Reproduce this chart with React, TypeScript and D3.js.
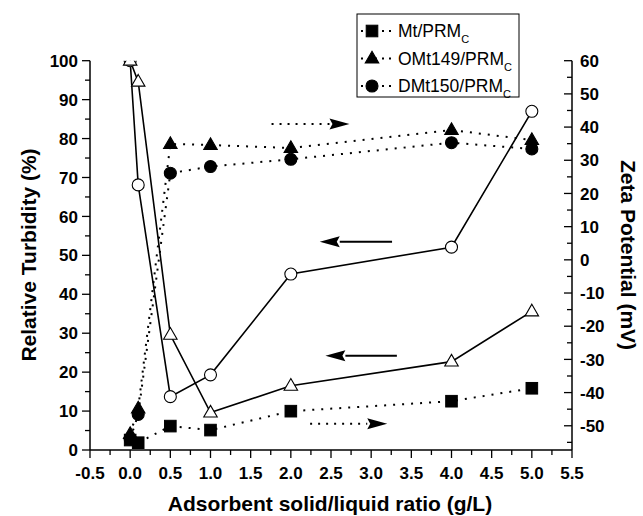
import React from "react";
import * as d3 from "d3";

const ratios = [0, 0.1, 0.5, 1, 2, 4, 5];

// Relative turbidity (%) — left axis, open markers, solid lines
const turbCircle = [100, 68.1, 13.7, 19.3, 45.2, 52.1, 87.0];
const turbTriangle = [100, 94.6, 29.6, 9.6, 16.5, 22.7, 35.6];

// Zeta potential (mV) — right axis, filled markers, dotted lines
const zetaMt = [-54.3, -55.1, -50.1, -51.3, -45.6, -42.6, -38.7];
const zetaOMt149 = [-52.5, -44.8, 34.9, 34.6, 33.7, 39.1, 36.1];
const zetaDMt150 = [-54.0, -46.6, 26.1, 28.1, 30.3, 35.3, 33.4];

const legendNames = ["Mt/PRM", "OMt149/PRM", "DMt150/PRM"];

const xTicks = [-0.5, 0, 0.5, 1, 1.5, 2, 2.5, 3, 3.5, 4, 4.5, 5, 5.5];
const leftTicks = [0, 10, 20, 30, 40, 50, 60, 70, 80, 90, 100];
const rightTicks = [-50, -40, -30, -20, -10, 0, 10, 20, 30, 40, 50, 60];

// arrows: [xFrom, xTo, y] (y on left axis for solid, right axis for dotted)
const solidArrows = [
  [3.26, 2.36, 53.5],
  [3.32, 2.43, 24.2],
];
const dottedArrows = [
  [1.76, 2.73, 40.9],
  [2.24, 3.2, -49.4],
];

const FONT = "Liberation Sans, Arial, sans-serif";

export default function App() {
  const L = 90, R = 572, T = 60.7, B = 450;
  const x = d3.scaleLinear().domain([-0.5, 5.5]).range([L, R]);
  const yL = d3.scaleLinear().domain([0, 100]).range([B, T]);
  const yR = d3.scaleLinear().domain([-57.3, 60]).range([B, T]);

  const line = (ys: number[], sc: d3.ScaleLinear<number, number>) =>
    d3.line<number>().x((_, i) => x(ratios[i])).y((v) => sc(v))(ys) as string;

  const tri = (cx: number, cy: number, s: number) => {
    const h = s * 0.866;
    return `M${cx},${cy - h * 0.62}L${cx + s / 2},${cy + h * 0.38}L${cx - s / 2},${cy + h * 0.38}Z`;
  };

  const dotted = "2 7";

  const marker = (kind: string, cx: number, cy: number, filled: boolean, key: any) => {
    const fill = filled ? "#000" : "#fff";
    if (kind === "square")
      return <rect key={key} x={cx - 5.8} y={cy - 5.8} width={11.6} height={11.6} fill={fill} stroke="#000" strokeWidth={1} />;
    if (kind === "triangle")
      return <path key={key} d={tri(cx, cy, 13.5)} fill={fill} stroke="#000" strokeWidth={1.1} />;
    return <circle key={key} cx={cx} cy={cy} r={6} fill={fill} stroke="#000" strokeWidth={1.1} />;
  };

  const arrow = (x1: number, x2: number, y: number, dash: string | undefined, key: any) => {
    const dir = Math.sign(x2 - x1);
    const headLen = 20, hw = 5.5;
    const xb = x2 - dir * headLen;
    return (
      <g key={key}>
        <line x1={x1} x2={xb} y1={y} y2={y} stroke="#000" strokeWidth={2} strokeDasharray={dash} />
        <path d={`M${x2},${y}L${xb},${y - hw}L${xb + dir * 3},${y}L${xb},${y + hw}Z`} fill="#000" />
      </g>
    );
  };

  const minorY = (lo: number, hi: number) => {
    const out: number[] = [];
    for (let v = lo; v <= hi + 1e-9; v += 5) out.push(v);
    return out;
  };

  return (
    <svg width={643} height={516} style={{ position: "absolute", left: 0, top: 0, background: "#fff" }} fontFamily={FONT}>
      <rect width={643} height={516} fill="#fff" />
      <defs>
        <clipPath id="plotclip">
          <rect x={L} y={T} width={R - L} height={B - T} />
        </clipPath>
      </defs>

      {/* Axes lines */}
      <line x1={L} x2={L} y1={T} y2={B} stroke="#000" strokeWidth={1.5} />
      <line x1={R} x2={R} y1={T} y2={B} stroke="#000" strokeWidth={1.5} />
      <line x1={L} x2={R} y1={B} y2={B} stroke="#000" strokeWidth={1.5} />

      {/* Left ticks (outward) */}
      {minorY(0, 100).map((v) => (
        <line key={"lt" + v} x1={L} x2={L - (v % 10 === 0 ? 8 : 5)} y1={yL(v)} y2={yL(v)} stroke="#000" strokeWidth={1.3} />
      ))}
      {leftTicks.map((v) => (
        <text key={"ll" + v} x={L - 12} y={yL(v)} dy="0.36em" textAnchor="end" fontSize={17} fontWeight="bold">{v}</text>
      ))}

      {/* Right ticks (inward) */}
      {minorY(-55, 60).map((v) => (
        <line key={"rt" + v} x1={R} x2={R - (v % 10 === 0 ? 8 : 5)} y1={yR(v)} y2={yR(v)} stroke="#000" strokeWidth={1.3} />
      ))}
      {rightTicks.map((v) => (
        <text key={"rl" + v} x={R + 8} y={yR(v)} dy="0.36em" textAnchor="start" fontSize={17} fontWeight="bold">{v}</text>
      ))}

      {/* Bottom ticks */}
      {d3.range(-0.5, 5.51, 0.25).map((v) => {
        const major = Math.abs(v * 2 - Math.round(v * 2)) < 1e-6;
        return <line key={"bt" + v} x1={x(v)} x2={x(v)} y1={B} y2={B + (major ? 8 : 5)} stroke="#000" strokeWidth={1.3} />;
      })}
      {xTicks.map((v) => (
        <text key={"bl" + v} x={x(v)} y={478.5} textAnchor="middle" fontSize={17} fontWeight="bold">{v.toFixed(1)}</text>
      ))}

      {/* Titles */}
      <text x={330} y={511} textAnchor="middle" fontSize={21} fontWeight="bold">Adsorbent solid/liquid ratio (g/L)</text>
      <text transform={`translate(36,255) rotate(-90)`} textAnchor="middle" fontSize={21} fontWeight="bold">Relative Turbidity (%)</text>
      <text transform={`translate(621,255) rotate(90)`} textAnchor="middle" fontSize={21} fontWeight="bold">Zeta Potential (mV)</text>

      <g clipPath="url(#plotclip)">
        {/* dotted series */}
        <path d={line(zetaMt, yR)} fill="none" stroke="#000" strokeWidth={2} strokeDasharray={dotted} />
        <path d={line(zetaOMt149, yR)} fill="none" stroke="#000" strokeWidth={2} strokeDasharray={dotted} />
        <path d={line(zetaDMt150, yR)} fill="none" stroke="#000" strokeWidth={2} strokeDasharray={dotted} />
        {/* solid series */}
        <path d={line(turbCircle, yL)} fill="none" stroke="#000" strokeWidth={1.6} />
        <path d={line(turbTriangle, yL)} fill="none" stroke="#000" strokeWidth={1.6} />

        {zetaDMt150.map((v, i) => marker("circle", x(ratios[i]), yR(v), true, "dc" + i))}
        {zetaOMt149.map((v, i) => marker("triangle", x(ratios[i]), yR(v), true, "dt" + i))}
        {zetaMt.map((v, i) => marker("square", x(ratios[i]), yR(v), true, "ds" + i))}
        {turbCircle.map((v, i) => marker("circle", x(ratios[i]), yL(v), false, "oc" + i))}
        {turbTriangle.map((v, i) => marker("triangle", x(ratios[i]), yL(v), false, "ot" + i))}
      </g>

      {/* Arrows */}
      {solidArrows.map((a, i) => arrow(x(a[0]), x(a[1]), yL(a[2]), undefined, "sa" + i))}
      {dottedArrows.map((a, i) => arrow(x(a[0]), x(a[1]), yR(a[2]), "2 6", "da" + i))}

      {/* Legend */}
      <rect x={357} y={14} width={162} height={83} fill="#fff" stroke="#000" strokeWidth={1} />
      {legendNames.map((name, i) => {
        const cy = 31 + i * 27.5;
        const kinds = ["square", "triangle", "circle"];
        return (
          <g key={"lg" + i}>
            <line x1={361} x2={393} y1={cy} y2={cy} stroke="#000" strokeWidth={2} strokeDasharray="2 5" />
            {marker(kinds[i], 372, cy, true, "lm" + i)}
            <text x={398} y={cy + 6} fontSize={17.5}>
              {name}
              <tspan fontSize={11} dy={6}>C</tspan>
            </text>
          </g>
        );
      })}
    </svg>
  );
}
